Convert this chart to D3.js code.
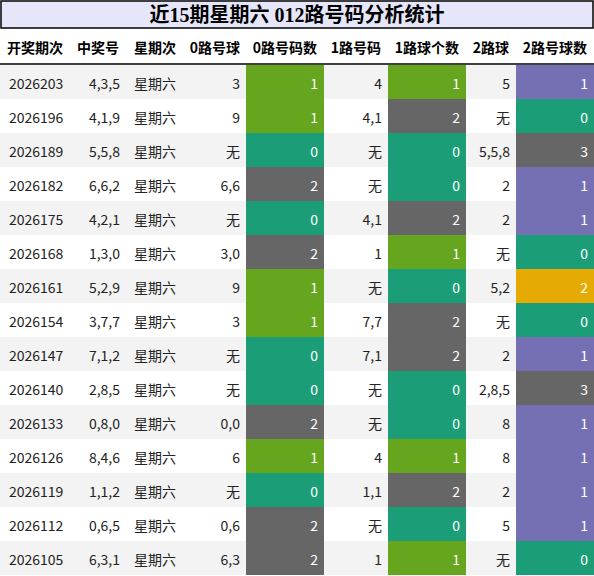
<!DOCTYPE html>
<html><head><meta charset="utf-8">
<script src="https://cdn.jsdelivr.net/npm/d3@7"></script>
<style>body{margin:0;background:#fff}</style>
</head><body>
<div id="chart"></div>
<script>
var title = "近15期星期六 012路号码分析统计"
var headers = ["开奖期次", "中奖号", "星期次", "0路号球", "0路号码数", "1路号码", "1路球个数", "2路球", "2路号球数"]
var issues = ["2026203","2026196","2026189","2026182","2026175","2026168","2026161","2026154","2026147","2026140","2026133","2026126","2026119","2026112","2026105"]
var draws = ["4,3,5","4,1,9","5,5,8","6,6,2","4,2,1","1,3,0","5,2,9","3,7,7","7,1,2","2,8,5","0,8,0","8,4,6","1,1,2","0,6,5","6,3,1"]
var weekday = "星期六"
var road0 = ["3","9","无","6,6","无","3,0","9","3","无","无","0,0","6","无","0,6","6,3"]
var count0 = [1,1,0,2,0,2,1,1,0,0,2,1,0,2,2]
var road1 = ["4","4,1","无","无","4,1","1","无","7,7","7,1","无","无","4","1,1","无","1"]
var count1 = [1,2,0,0,2,1,0,2,2,0,0,1,2,0,1]
var road2 = ["5","无","5,5,8","2","2","无","5,2","无","2","2,8,5","8","8","2","5","无"]
var count2 = [1,0,3,1,1,0,2,0,1,3,1,1,1,1,0]

var W = 594, H = 576
var edges = [0, 70, 126, 184, 246, 324, 388, 466, 516, 594]
var titleH = 28, headH = 36, rowH = 34
var countColor = d3.scaleOrdinal().domain([0,1,2,3]).range(["#1b9e77","#66a61e","#e6ab02","#666666"])
var countColor0 = d3.scaleOrdinal().domain([0,1,2,3]).range(["#1b9e77","#66a61e","#666666","#666666"])
var countColor2 = d3.scaleOrdinal().domain([0,1,2,3]).range(["#1b9e77","#7570b3","#e6ab02","#666666"])

var svg = d3.select("#chart").append("svg").attr("width", W).attr("height", H)
var y = d3.scaleBand().domain(d3.range(issues.length)).range([titleH + headH + 1, titleH + headH + 1 + rowH * issues.length])

svg.append("rect").attr("x", 1).attr("y", 1).attr("width", W - 2).attr("height", titleH - 1)
	.attr("fill", "#e6e6fa").attr("stroke", "#000").attr("stroke-width", 1.5)
svg.append("text").attr("x", W / 2).attr("y", titleH / 2 + 1).attr("text-anchor", "middle")
	.attr("dominant-baseline", "central").attr("font-family", "'Liberation Serif','Noto Sans CJK SC',serif")
	.attr("font-weight", "bold").attr("font-size", 20).text(title)

svg.selectAll(".hd").data(headers).enter().append("text")
	.attr("x", function (d, i) { return (edges[i] + edges[i + 1]) / 2 })
	.attr("y", titleH + headH / 2 + 1).attr("text-anchor", "middle").attr("dominant-baseline", "central")
	.attr("font-family", "'Noto Sans CJK SC',sans-serif").attr("font-weight", "bold").attr("font-size", 14)
	.text(function (d) { return d })
svg.append("line").attr("x1", 0).attr("x2", W).attr("y1", titleH + headH).attr("y2", titleH + headH)
	.attr("stroke", "#000").attr("stroke-width", 1.5)

var rows = issues.map(function (d, i) {
	return [d, draws[i], weekday, road0[i], count0[i], road1[i], count1[i], road2[i], count2[i]]
})
var g = svg.selectAll(".row").data(rows).enter().append("g")
	.attr("transform", function (d, i) { return "translate(0," + y(i) + ")" })
g.append("rect").attr("width", W).attr("height", rowH)
	.attr("fill", function (d, i) { return i % 2 == 0 ? "#f3f3f3" : "#fff" })

g.each(function (row) {
	var r = d3.select(this)
	row.forEach(function (v, c) {
		var x0 = edges[c], x1 = edges[c + 1]
		var colored = c == 4 || c == 6 || c == 8
		if (colored) {
			var col = c == 4 ? countColor0(v) : c == 6 ? countColor0(v) : countColor2(v)
			r.append("rect").attr("x", x0).attr("width", x1 - x0).attr("height", rowH).attr("fill", col)
		}
		var left = c == 0 || c == 2
		r.append("text")
			.attr("x", c == 0 ? x0 + 9 : left ? x0 + 8 : x1 - 6)
			.attr("y", rowH / 2 + 1).attr("dominant-baseline", "central")
			.attr("text-anchor", left ? "start" : "end")
			.attr("font-family", "'Noto Sans CJK SC',sans-serif").attr("font-size", 14)
			.attr("fill", colored ? "#fff" : "#222")
			.text(v)
	})
})
</script>
</body></html>
